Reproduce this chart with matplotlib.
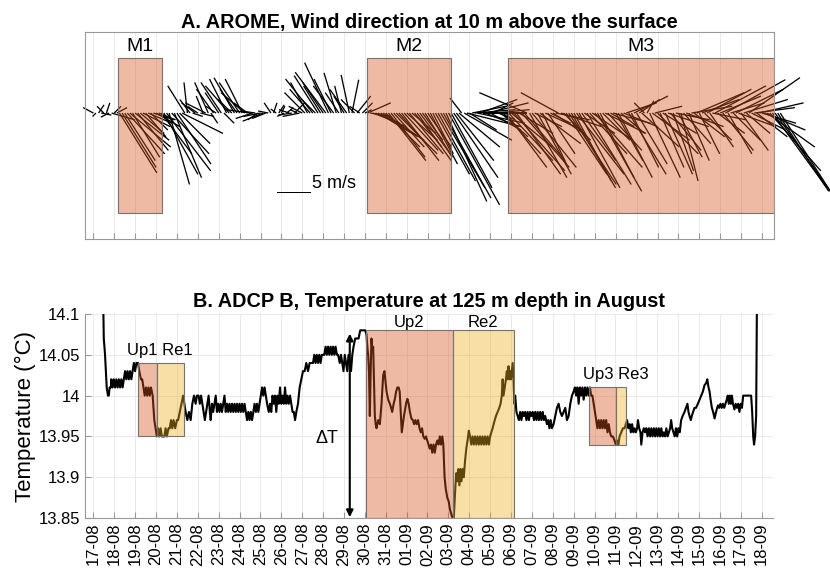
import matplotlib.pyplot as plt
from matplotlib.patches import Rectangle
import numpy as np

plt.rcParams['font.family'] = ['Liberation Sans', 'DejaVu Sans']

# Даты: дни с 17-08 00:00
date_labels = [f'{d:02d}-08' for d in range(17, 32)] + [f'{d:02d}-09' for d in range(1, 19)]

# Ветер AROME, каждые 3 часа (u, v в м/с), 8 значений в сутки
wind_step = 0.125
wind_u = [
    -1.5, -0.5, 0.8, 1.5, -1.0, 0.5, -1.2, 3.4,     # 17-08
    1.0, 1.5, 5.5, 5.0, 4.5, 5.5, 6.0, 4.0,         # 18-08
    5.0, 4.5, 3.5, 4.0, 3.0, 3.5, 2.5, 3.0,         # 19-08
    3.5, 2.5, 4.5, 5.0, 6.5, 3.0, 5.5, 4.0,         # 20-08
    5.0, 4.5, 6.0, -2.5, -0.5, -1.5, 1.5, -2.0,     # 21-08
    -1.5, 2.0, -1.0, -3.0, -2.0, 1.0, -2.5, -1.5,   # 22-08
    -2.0, -3.0, 1.5, -2.5, -3.5, -2.0, -3.0, -2.5,  # 23-08
    -3.0, -2.5, -3.5, -2.0, -3.5, -2.5, -2.0, -1.5, # 24-08
    -2.5, -3.0, -2.0, -1.5, -1.0, 0.5, -0.8, 0.8,   # 25-08
    0.5, -1.0, 1.0, -1.5, -2.0, 1.5, -1.0, -2.5,    # 26-08
    -2.0, -3.0, -2.5, -3.0, -4.0, -2.0, -3.5, -2.5, # 27-08
    -3.0, -4.5, -3.5, -2.5, -3.0, -1.8, -2.0, -1.0, # 28-08
    -1.5, -2.5, -1.2, 1.0, -2.0, 2.0, -1.5, 1.5,    # 29-08
    1.0, 3.4, 3.0, 4.0, 4.5, 5.0, 5.5, 6.0,         # 30-08
    5.0, 5.5, 5.0, 4.5, 6.0, 4.0, 5.5, 5.0,         # 31-08
    4.5, 5.0, 3.5, 4.0, 5.0, 4.5, 3.0, 4.0,         # 01-09
    3.5, 4.0, 3.0, 5.0, 5.5, 6.5, 7.0, 6.0,         # 02-09
    7.5, 6.0, 6.5, 5.5, 6.0, -1.7, 7.0, 8.0,        # 03-09
    4.0, 5.0, 6.0, 7.0, 5.5, 6.5, 5.0, 6.0,         # 04-09
    4.5, 3.0, 5.0, 2.5, 4.0, 5.5, 6.0, 6.5,         # 05-09
    6.0, 7.5, 6.5, 5.0, 7.0, 6.0, -7.0, 5.5,        # 06-09
    6.5, 4.0, 5.0, 6.0, 3.5, 5.5, 4.0, 3.0,         # 07-09
    4.5, 5.0, -5.5, 6.0, 4.0, 6.0, 7.0, 6.5,        # 08-09
    5.5, 7.0, 6.0, 5.0, 4.5, 6.5, 5.5, 6.0,         # 09-09
    7.0, 6.5, 5.0, 4.0, 6.0, 5.0, 3.5, 5.5,         # 10-09
    4.0, 5.0, 3.5, 5.0, 4.5, 5.5, 4.0, 5.0,         # 11-09
    4.5, 3.0, 5.5, -1.5, 1.0, 4.5, 5.5, 4.0,        # 12-09
    6.0, 3.5, 5.0, 4.0, 6.0, 4.5, 3.0, 5.0,         # 13-09
    3.5, 2.5, 4.0, 5.5, 3.0, 6.0, 4.5, 7.0,         # 14-09
    3.0, 5.5, 4.0, 6.5, 3.5, 5.0, 7.5, 4.0,         # 15-09
    6.0, 4.5, 8.8, 3.5, 5.0, 4.0, 7.0, 5.5,         # 16-09
    4.0, 6.5, 3.5, 7.5, 5.0, 6.0, 4.5, 6.5,         # 17-09
    5.0, 6.0, 7.0, 7.5, 8.0, 8.5, 7.5, 8.0,         # 18-09
]
wind_v = [
    0.8, -0.5, 1.2, -0.3, 1.0, 1.5, -0.6, -1.0,     # 17-08
    1.0, 0.8, -8.8, -8.0, -7.0, -6.0, -5.0, -6.5,   # 18-08
    -4.0, -5.5, -3.0, -2.0, -3.5, -1.5, -2.5, -1.0, # 19-08
    -2.0, -1.0, -6.0, -9.0, -8.5, -10.5, -6.0, -9.5,  # 20-08
    -7.5, -4.5, -3.0, 4.0, 4.5, 2.0, -0.5, 1.5,     # 21-08
    1.0, -0.5, 2.5, 1.5, 4.5, -1.5, 3.5, 1.0,       # 22-08
    3.0, 4.5, -1.5, 5.0, 4.0, 2.0, 5.2, 3.5,        # 23-08
    4.5, 5.0, 3.0, 1.5, 0.5, -0.8, 0.3, -1.0,       # 24-08
    -0.5, -1.2, -0.8, 0.3, 1.5, 1.5, 0.6, 1.2,      # 25-08
    1.0, -0.5, 0.8, 0.5, -0.3, 1.5, 0.5, -0.5,      # 26-08
    1.0, 3.0, 4.5, 3.5, 5.0, 2.0, 5.5, 4.0,         # 27-08
    4.5, 6.0, 7.4, 5.0, 4.0, 5.9, 3.0, 4.0,         # 28-08
    2.5, 3.5, 5.6, 4.9, 2.0, 2.5, 1.0, 1.5,         # 29-08
    0.5, 1.5, -0.5, -1.5, -2.0, -3.0, -3.5, -4.0,   # 30-08
    -5.0, -7.0, -6.5, -5.0, -6.0, -4.5, -7.0, -5.5, # 31-08
    -4.0, -6.0, -3.0, -5.0, -7.0, -6.0, -4.0, -6.5, # 01-09
    -5.0, -7.5, -6.0, -9.0, -10.0, -11.0, -12.5, -13.0,  # 02-09
    -13.5, -11.0, -9.5, -7.0, -5.0, 2.2, -4.0, -2.0,     # 03-09
    -2.5, 1.0, 0.5, -1.5, 2.0, 0.0, -2.0, 1.5,      # 04-09
    -2.5, 1.5, 0.5, -1.0, -3.5, -6.0, -8.0, -7.0,   # 05-09
    -5.0, -8.5, -9.0, -3.0, -8.0, -7.0, 3.0, -9.5,  # 06-09
    -8.0, -2.0, -9.0, -4.5, -7.5, -2.5, -6.0, -1.5, # 07-09
    -3.0, -1.0, 3.0, -2.0, -4.0, -9.0, -10.5, -11.0,  # 08-09
    -10.0, -9.0, -11.0, -7.0, -3.0, -10.5, -6.0, -4.0,  # 09-09
    -8.0, -11.5, -9.5, -4.0, -3.0, -5.5, -2.0, -1.5,  # 10-09
    -7.0, -9.5, -3.0, -2.0, 1.5, -9.0, -8.0, 2.5,   # 11-09
    -7.5, 2.0, -5.0, 1.5, 1.8, -9.5, -4.0, 1.0,     # 12-09
    -6.0, -8.0, -3.0, -9.0, -2.0, -5.5, -8.5, -1.0, # 13-09
    -6.5, -10.0, -4.5, -2.0, -7.0, 1.0, -3.5, 3.0,  # 14-09
    -6.0, 2.0, -4.0, 3.5, -5.0, -1.0, 4.0, -3.0,    # 15-09
    2.5, -5.5, 4.9, -6.0, 1.5, -4.0, 3.5, -2.0,     # 16-09
    -5.5, 2.0, -3.0, 5.2, -2.5, 0.8, -3.5, 1.5,     # 17-09
    -1.5, -2.5, -5.0, -8.5, -11.0, -12.0, -11.5, -12.5,  # 18-09
]

# Зоны M1, M2, M3 (дни)
wind_zone_names = ['M1', 'M2', 'M3']
wind_zone_start = [1.20, 13.08, 19.86]
wind_zone_end = [3.27, 17.10, 32.57]

# Температура ADCP B на 125 м: (день, °C)
temp_obs = [
    (0.42, 14.20), (0.50, 14.07), (0.56, 14.05), (0.60, 14.03), (0.64, 14.01), (0.70, 14.00),
    (0.74, 14.00), (0.78, 14.01), (0.84, 14.01), (0.86, 14.02), (0.92, 14.01), (0.98, 14.02),
    (1.04, 14.01), (1.10, 14.02), (1.16, 14.01), (1.22, 14.02), (1.28, 14.01), (1.34, 14.02),
    (1.40, 14.01), (1.46, 14.02), (1.52, 14.03), (1.58, 14.02), (1.64, 14.03), (1.70, 14.02),
    (1.76, 14.03), (1.82, 14.02), (1.88, 14.03), (1.94, 14.04), (2.00, 14.03), (2.06, 14.04),
    (2.14, 14.04), (2.20, 14.03), (2.28, 14.02), (2.34, 14.02), (2.40, 14.01), (2.46, 14.00),
    (2.52, 14.01), (2.58, 14.00), (2.64, 14.01), (2.70, 14.00), (2.76, 14.01), (2.84, 14.00),
    (2.92, 13.97), (2.98, 13.96), (3.04, 13.95), (3.10, 13.96), (3.16, 13.95), (3.22, 13.96),
    (3.28, 13.95), (3.40, 13.95), (3.46, 13.96), (3.52, 13.95), (3.60, 13.96), (3.66, 13.96),
    (3.72, 13.97), (3.78, 13.96), (3.84, 13.97), (3.92, 13.96), (4.00, 13.97), (4.06, 13.97),
    (4.14, 13.98), (4.22, 13.99), (4.30, 14.00), (4.36, 13.99), (4.42, 13.98), (4.50, 13.97),
    (4.58, 13.98), (4.66, 13.97), (4.74, 13.99), (4.82, 14.00), (4.90, 13.99), (4.96, 14.00),
    (5.04, 14.00), (5.10, 13.99), (5.16, 14.00), (5.22, 13.99), (5.28, 13.98), (5.34, 13.97),
    (5.40, 13.98), (5.46, 13.99), (5.52, 14.00), (5.58, 13.98), (5.62, 13.97), (5.68, 13.99),
    (5.74, 13.98), (5.80, 13.99), (5.86, 14.00), (5.92, 13.98), (5.98, 13.99), (6.04, 13.98),
    (6.10, 13.99), (6.16, 13.98), (6.22, 13.99), (6.28, 14.00), (6.34, 13.98), (6.40, 13.99),
    (6.46, 13.98), (6.52, 13.99), (6.58, 13.98), (6.64, 13.99), (6.70, 13.98), (6.76, 13.99),
    (6.82, 13.98), (6.88, 13.99), (6.94, 13.98), (7.00, 13.99), (7.06, 13.98), (7.12, 13.99),
    (7.18, 13.98), (7.24, 13.99), (7.30, 13.98), (7.36, 13.97), (7.42, 13.98), (7.48, 13.97),
    (7.54, 13.98), (7.60, 13.97), (7.66, 13.98), (7.72, 13.99), (7.78, 13.98), (7.84, 13.99),
    (7.90, 13.98), (7.96, 13.99), (8.02, 14.00), (8.08, 14.01), (8.14, 14.00), (8.20, 14.01),
    (8.26, 14.00), (8.32, 13.99), (8.40, 13.98), (8.46, 13.99), (8.52, 13.98), (8.58, 14.00),
    (8.64, 13.99), (8.70, 14.00), (8.76, 13.98), (8.82, 14.00), (8.88, 13.99), (8.94, 14.01),
    (9.00, 13.99), (9.06, 14.00), (9.12, 13.99), (9.18, 14.01), (9.24, 13.99), (9.30, 14.00),
    (9.36, 13.99), (9.42, 14.00), (9.48, 13.99), (9.54, 13.98), (9.60, 13.98), (9.66, 13.97),
    (9.72, 13.98), (9.80, 13.99), (9.88, 14.01), (9.96, 14.02), (10.04, 14.03), (10.12, 14.03),
    (10.20, 14.04), (10.28, 14.03), (10.36, 14.04), (10.44, 14.04), (10.52, 14.04), (10.58, 14.05),
    (10.64, 14.04), (10.70, 14.05), (10.76, 14.04), (10.82, 14.05), (10.88, 14.04), (10.94, 14.05),
    (11.00, 14.05), (11.06, 14.05), (11.12, 14.06), (11.18, 14.05), (11.24, 14.06), (11.30, 14.05),
    (11.36, 14.06), (11.42, 14.05), (11.48, 14.06), (11.54, 14.05), (11.60, 14.06), (11.66, 14.05),
    (11.72, 14.05), (11.80, 14.04), (11.86, 14.05), (11.92, 14.04), (11.98, 14.03), (12.04, 14.05),
    (12.10, 14.04), (12.16, 14.03), (12.22, 14.05), (12.28, 14.04), (12.34, 14.03), (12.40, 14.05),
    (12.46, 14.06), (12.54, 14.07), (12.62, 14.07), (12.70, 14.07), (12.78, 14.08), (12.86, 14.08),
    (12.94, 14.08), (13.02, 14.08), (13.08, 14.075), (13.12, 14.06), (13.16, 14.05), (13.20, 14.03),
    (13.24, 13.975), (13.28, 14.03), (13.32, 14.07), (13.36, 14.055), (13.40, 14.06), (13.44, 14.02),
    (13.48, 13.975), (13.52, 13.965), (13.56, 13.96), (13.64, 13.97), (13.72, 13.965), (13.80, 13.99),
    (13.88, 14.025), (13.94, 14.03), (14.00, 14.015), (14.04, 14.005), (14.12, 13.995), (14.20, 13.99),
    (14.26, 13.985), (14.31, 13.98), (14.38, 13.99), (14.44, 13.996), (14.50, 14.005), (14.56, 14.01),
    (14.62, 14.01), (14.67, 14.005), (14.72, 13.98), (14.77, 13.955), (14.82, 13.965), (14.88, 13.976),
    (14.94, 13.985), (14.99, 13.992), (15.04, 13.996), (15.10, 13.99), (15.16, 13.98), (15.23, 13.972),
    (15.30, 13.97), (15.36, 13.965), (15.42, 13.97), (15.48, 13.965), (15.55, 13.97), (15.62, 13.96),
    (15.68, 13.955), (15.74, 13.96), (15.80, 13.95), (15.87, 13.947), (15.93, 13.95), (15.99, 13.945),
    (16.05, 13.94), (16.11, 13.935), (16.17, 13.94), (16.23, 13.93), (16.29, 13.94), (16.35, 13.93),
    (16.41, 13.94), (16.47, 13.945), (16.53, 13.94), (16.59, 13.95), (16.65, 13.94), (16.71, 13.95),
    (16.76, 13.94), (16.82, 13.90), (16.88, 13.885), (16.95, 13.875), (17.02, 13.87), (17.08, 13.86),
    (17.14, 13.855), (17.20, 13.85), (17.26, 13.85), (17.30, 13.87), (17.34, 13.89), (17.38, 13.905),
    (17.43, 13.895), (17.48, 13.91), (17.53, 13.89), (17.58, 13.91), (17.63, 13.895), (17.68, 13.91),
    (17.74, 13.90), (17.80, 13.92), (17.86, 13.935), (17.92, 13.945), (17.98, 13.957), (18.04, 13.95),
    (18.10, 13.94), (18.16, 13.95), (18.22, 13.94), (18.28, 13.95), (18.34, 13.94), (18.40, 13.95),
    (18.46, 13.94), (18.52, 13.95), (18.58, 13.94), (18.64, 13.95), (18.70, 13.94), (18.76, 13.95),
    (18.82, 13.94), (18.88, 13.95), (18.94, 13.94), (19.00, 13.95), (19.06, 13.955), (19.12, 13.96),
    (19.20, 13.968), (19.28, 13.975), (19.36, 13.98), (19.44, 13.985), (19.50, 13.99), (19.56, 14.00),
    (19.60, 14.02), (19.64, 14.00), (19.70, 14.01), (19.76, 14.02), (19.80, 14.03), (19.84, 14.02),
    (19.88, 14.036), (19.92, 14.02), (19.96, 14.03), (20.00, 14.02), (20.04, 14.03), (20.08, 14.04),
    (20.12, 14.02), (20.16, 13.99), (20.20, 14.00), (20.26, 13.98), (20.32, 13.975), (20.38, 13.97),
    (20.44, 13.98), (20.50, 13.97), (20.56, 13.98), (20.62, 13.975), (20.68, 13.98), (20.74, 13.97),
    (20.80, 13.98), (20.86, 13.97), (20.92, 13.98), (20.98, 13.975), (21.04, 13.98), (21.10, 13.97),
    (21.16, 13.98), (21.22, 13.97), (21.28, 13.98), (21.34, 13.97), (21.40, 13.98), (21.46, 13.97),
    (21.52, 13.98), (21.58, 13.97), (21.64, 13.975), (21.72, 13.965), (21.78, 13.97), (21.84, 13.96),
    (21.90, 13.97), (21.96, 13.96), (22.04, 13.965), (22.12, 13.975), (22.20, 13.985), (22.28, 13.99),
    (22.36, 13.98), (22.44, 13.975), (22.52, 13.98), (22.60, 13.985), (22.68, 13.97), (22.76, 13.975),
    (22.84, 13.99), (22.92, 14.00), (23.00, 14.005), (23.06, 14.01), (23.12, 14.00), (23.18, 14.01),
    (23.24, 13.99), (23.30, 14.01), (23.36, 14.00), (23.42, 14.01), (23.48, 13.995), (23.54, 14.01),
    (23.60, 14.00), (23.66, 14.01), (23.72, 14.00), (23.78, 14.01), (23.84, 14.00), (23.90, 14.00),
    (23.96, 13.99), (24.02, 13.98), (24.08, 13.97), (24.14, 13.96), (24.20, 13.97), (24.26, 13.96),
    (24.32, 13.97), (24.38, 13.96), (24.44, 13.97), (24.50, 13.96), (24.56, 13.97), (24.62, 13.955),
    (24.68, 13.965), (24.74, 13.955), (24.80, 13.95), (24.88, 13.95), (24.96, 13.945), (25.02, 13.94),
    (25.08, 13.945), (25.14, 13.94), (25.20, 13.95), (25.28, 13.955), (25.36, 13.96), (25.44, 13.96),
    (25.50, 13.965), (25.56, 13.97), (25.62, 13.96), (25.68, 13.965), (25.74, 13.955), (25.80, 13.965),
    (25.86, 13.955), (25.92, 13.96), (25.98, 13.955), (26.04, 13.96), (26.08, 13.97), (26.14, 13.96),
    (26.20, 13.955), (26.24, 13.94), (26.30, 13.955), (26.36, 13.96), (26.42, 13.955), (26.48, 13.96),
    (26.54, 13.95), (26.60, 13.96), (26.66, 13.95), (26.72, 13.96), (26.78, 13.95), (26.84, 13.96),
    (26.90, 13.95), (26.96, 13.96), (27.02, 13.95), (27.08, 13.96), (27.14, 13.95), (27.20, 13.96),
    (27.26, 13.95), (27.32, 13.955), (27.38, 13.95), (27.44, 13.96), (27.50, 13.95), (27.56, 13.955),
    (27.62, 13.96), (27.67, 13.97), (27.72, 13.96), (27.78, 13.955), (27.84, 13.95), (27.90, 13.96),
    (27.96, 13.95), (28.02, 13.96), (28.08, 13.955), (28.15, 13.97), (28.22, 13.975), (28.31, 13.98),
    (28.38, 13.985), (28.45, 13.99), (28.50, 13.98), (28.55, 13.975), (28.61, 13.97), (28.66, 13.975),
    (28.72, 13.98), (28.79, 13.985), (28.86, 13.985), (28.95, 13.99), (29.03, 13.995), (29.11, 14.00),
    (29.19, 14.005), (29.27, 14.013), (29.34, 14.015), (29.40, 14.02), (29.46, 14.01), (29.51, 14.005),
    (29.56, 13.995), (29.62, 13.985), (29.68, 13.98), (29.75, 13.972), (29.82, 13.98), (29.91, 13.988),
    (29.97, 13.985), (30.03, 13.99), (30.09, 13.985), (30.15, 13.99), (30.21, 13.985), (30.27, 13.99),
    (30.33, 13.995), (30.38, 14.00), (30.43, 13.99), (30.48, 14.00), (30.53, 13.99), (30.58, 14.00),
    (30.63, 13.99), (30.70, 13.983), (30.76, 13.99), (30.82, 13.985), (30.88, 13.99), (30.94, 13.98),
    (31.00, 13.99), (31.06, 13.985), (31.12, 14.00), (31.20, 14.00), (31.28, 14.00), (31.36, 14.00),
    (31.44, 14.00), (31.50, 14.00), (31.55, 13.98), (31.60, 13.95), (31.64, 13.94), (31.69, 13.95),
    (31.74, 13.975), (31.80, 14.20),
]

# Зоны апвеллинга (Up) и релаксации (Re): начало, конец, низ, верх
temp_zone_names = ['Up1', 'Re1', 'Up2', 'Re2', 'Up3', 'Re3']
temp_zone_start = [2.15, 3.06, 13.05, 17.20, 23.73, 25.04]
temp_zone_end = [3.06, 4.36, 17.20, 20.14, 25.04, 25.52]
temp_zone_low = [13.95, 13.95, 13.85, 13.85, 13.94, 13.94]
temp_zone_high = [14.04, 14.04, 14.08, 14.08, 14.01, 14.01]

up_color = (0.85, 0.33, 0.10, 0.4)
re_color = (0.93, 0.69, 0.13, 0.4)

fig = plt.figure(figsize=(8.3, 5.78), dpi=100)
ax1 = fig.add_axes([0.1024, 0.5865, 0.830, 0.3581])
ax2 = fig.add_axes([0.1024, 0.1038, 0.8295, 0.3529])

xlim = (-0.4, 32.57)
days = np.arange(len(date_labels))

# ---- A. Ветер ----
wind_day = np.arange(len(wind_u)) * wind_step
q = ax1.quiver(wind_day, np.zeros(len(wind_u)), wind_u, wind_v, angles='uv',
               scale_units='inches', scale=14.7, units='dots', width=1.3,
               headwidth=0, headlength=0, headaxislength=0, pivot='tail',
               color='k', zorder=2)
q.set_clip_on(False)

# Масштаб 5 м/с
ax1.quiver([8.79], [-11.6], [5], [0], angles='uv', scale_units='inches',
           scale=14.7, units='dots', width=1.0, headwidth=0, headlength=0,
           headaxislength=0, pivot='tail', color='k', zorder=2)
ax1.text(10.45, -11.6, '5 m/s', fontsize=13, ha='left', va='bottom')

for name, x0, x1 in zip(wind_zone_names, wind_zone_start, wind_zone_end):
    ax1.add_patch(Rectangle((x0, -14.7), x1 - x0, 22.8, facecolor=up_color,
                            edgecolor='0.45', lw=0.8, zorder=3))
    ax1.text((x0 + x1) / 2, 9.8, name, fontsize=14, ha='center', va='center')

ax1.set_xlim(*xlim)
ax1.set_ylim(-18.5, 11.9)
ax1.set_yticks([])
ax1.set_xticks(days)
ax1.set_xticklabels([])
ax1.tick_params(axis='x', direction='in', length=4, color='0.6')
ax1.grid(True, axis='x', color='0.9', lw=0.6)
ax1.set_axisbelow(True)
for s in ax1.spines.values():
    s.set_color('0.6')
    s.set_linewidth(0.8)
ax1.set_title('A. AROME, Wind direction at 10 m above the surface',
              fontsize=14.3, fontweight='bold', pad=3)

# ---- B. Температура ----
temp_day = [p[0] for p in temp_obs]
temp_val = [p[1] for p in temp_obs]
ax2.plot(temp_day, temp_val, color='k', lw=1.5, zorder=2)

for name, x0, x1, y0, y1 in zip(temp_zone_names, temp_zone_start, temp_zone_end,
                                temp_zone_low, temp_zone_high):
    fc = up_color if name.startswith('Up') else re_color
    ax2.add_patch(Rectangle((x0, y0), x1 - x0, y1 - y0, facecolor=fc,
                            edgecolor='0.45', lw=0.8, zorder=3))

ax2.text(3.19, 14.046, 'Up1 Re1', fontsize=12, ha='center', va='bottom')
ax2.text((13.05 + 17.20) / 2, 14.0805, 'Up2', fontsize=12, ha='center', va='bottom')
ax2.text((17.20 + 20.14) / 2, 14.0805, 'Re2', fontsize=12, ha='center', va='bottom')
ax2.text(25.0, 14.017, 'Up3 Re3', fontsize=12, ha='center', va='bottom')

ax2.annotate('', xy=(12.28, 13.851), xytext=(12.28, 14.076),
             arrowprops=dict(arrowstyle='<|-|>', color='k', lw=1.5,
                             mutation_scale=10, shrinkA=0, shrinkB=0))
ax2.text(11.2, 13.948, 'ΔT', fontsize=13, ha='center', va='center')

ax2.set_xlim(*xlim)
ax2.set_ylim(13.85, 14.1)
ax2.set_yticks([13.85, 13.9, 13.95, 14.0, 14.05, 14.1])
ax2.set_yticklabels(['13.85', '13.9', '13.95', '14', '14.05', '14.1'], fontsize=12)
ax2.set_xticks(days)
ax2.set_xticklabels(date_labels, rotation=90, fontsize=12)
ax2.tick_params(axis='both', direction='in', length=4, color='0.6')
ax2.grid(True, color='0.9', lw=0.6)
ax2.set_axisbelow(True)
ax2.spines['top'].set_visible(False)
ax2.spines['right'].set_visible(False)
for s in ['left', 'bottom']:
    ax2.spines[s].set_color('0.6')
    ax2.spines[s].set_linewidth(0.8)
ax2.set_ylabel('Temperature (°C)', fontsize=16, labelpad=2)
ax2.set_title('B. ADCP B, Temperature at 125 m depth in August',
              fontsize=14.3, fontweight='bold', pad=5)

fig.savefig('out.png', dpi=100)
